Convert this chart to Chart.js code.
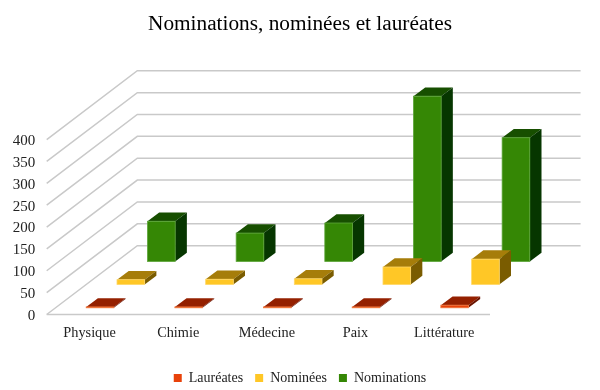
<!DOCTYPE html>
<html><head><meta charset="utf-8">
<script src="https://cdn.jsdelivr.net/npm/chart.js@4"></script>
<style>html,body{margin:0;padding:0;background:#fff}#w{width:600px;height:390px}</style>
</head><body><div id="w"><canvas id="c"></canvas></div>
<script>
const categories = ["Physique","Chimie","Médecine","Paix","Littérature"];
const laureates = [2,2,2,2,6];
const nominees = [11,12,13,40,58];
const nominations = [92,65,88,378,283];
const seriesNames = ["Lauréates","Nominées","Nominations"];
const wallDepth = {dx:90.6, dy:68.8};
const seriesDepth = [{dx:9,dy:6.7},{dx:39.8,dy:30},{dx:70.3,dy:53}];
const barDepth = {dx:11.7, dy:8.8};
const shades = [
 {front:"#e8420a",top:"#942000",side:"#6b1400",edge:"#f07a40"},
 {front:"#ffc726",top:"#a67d0a",side:"#7a5c00",edge:"#ffd766"},
 {front:"#358705",top:"#174f00",side:"#063600",edge:"#5da63a"}
];
const poly=(g,pts,fill)=>{g.beginPath();pts.forEach((p,i)=>i?g.lineTo(p[0],p[1]):g.moveTo(p[0],p[1]));g.closePath();g.fillStyle=fill;g.fill();};
const plugin3d={id:"plugin3d",
 beforeDatasetsDraw(chart){
  const g=chart.ctx,y=chart.scales.y,a=chart.chartArea;
  g.save();g.strokeStyle="#c9c9c9";g.lineWidth=1.5;
  y.ticks.forEach(t=>{
   const py=y.getPixelForValue(t.value);
   g.beginPath();g.moveTo(a.left,py);g.lineTo(a.left+wallDepth.dx,py-wallDepth.dy);
   g.lineTo(a.right+wallDepth.dx,py-wallDepth.dy);g.stroke();
  });
  g.beginPath();g.moveTo(a.left,a.bottom);g.lineTo(a.right,a.bottom);g.stroke();
  g.restore();
 },
 beforeDatasetDraw(chart,args){
  const g=chart.ctx,i=args.index,s=shades[i],o=seriesDepth[i],d=barDepth;
  args.meta.data.forEach(b=>{
   const l=b.x-b.width/2+o.dx,r=b.x+b.width/2+o.dx,t=b.y-o.dy,bt=b.base-o.dy;
   poly(g,[[l,t],[r,t],[r+d.dx,t-d.dy],[l+d.dx,t-d.dy]],s.top);
   poly(g,[[r,t],[r+d.dx,t-d.dy],[r+d.dx,bt-d.dy],[r,bt]],s.side);
   poly(g,[[l,t],[r,t],[r,bt],[l,bt]],s.front);
   g.save();g.strokeStyle=s.edge;g.lineWidth=0.8;g.strokeRect(l,t,r-l,bt-t);g.restore();
  });
  return false;
 }
};
new Chart(document.getElementById("c"),{
 type:"bar",
 data:{labels:categories,datasets:[
  {label:seriesNames[0],data:laureates,backgroundColor:shades[0].front,xAxisID:"x",yAxisID:"y"},
  {label:seriesNames[1],data:nominees,backgroundColor:shades[1].front,xAxisID:"x",yAxisID:"y"},
  {label:seriesNames[2],data:nominations,backgroundColor:shades[2].front,xAxisID:"x",yAxisID:"y"}
 ]},
 plugins:[plugin3d],
 options:{responsive:true,maintainAspectRatio:false,animation:false,
  layout:{padding:{left:0,right:0,top:8,bottom:-5}},
  datasets:{bar:{grouped:false,categoryPercentage:1,barPercentage:0.312}},
  plugins:{
   title:{display:true,text:"Nominations, nominées et lauréates",color:"#000",
    font:{family:"'Liberation Serif'",size:21.3,weight:"normal"},padding:{top:4,bottom:102}},
   legend:{position:"bottom",labels:{color:"#222",font:{family:"'Liberation Serif'",size:14},boxWidth:8,boxHeight:8,padding:12}},
   tooltip:{enabled:false}
  },
  scales:{
   x:{afterFit(s){s.height=44.5;},grid:{display:false},border:{display:false},
    ticks:{color:"#222",font:{family:"'Liberation Serif'",size:14.3},padding:2,maxRotation:0,labelOffset:-1.5}},
   y:{min:0,max:400,afterFit(s){s.width=46.7;},
    grid:{display:false},border:{display:false},
    ticks:{stepSize:50,color:"#222",font:{family:"'Liberation Serif'",size:15},padding:3.5,labelOffset:1.5}},
   rightSpace:{position:"right",min:0,max:400,afterFit(s){s.width=110;},
    grid:{display:false},border:{display:false},ticks:{display:false}}
  }
 }
});
</script></body></html>
